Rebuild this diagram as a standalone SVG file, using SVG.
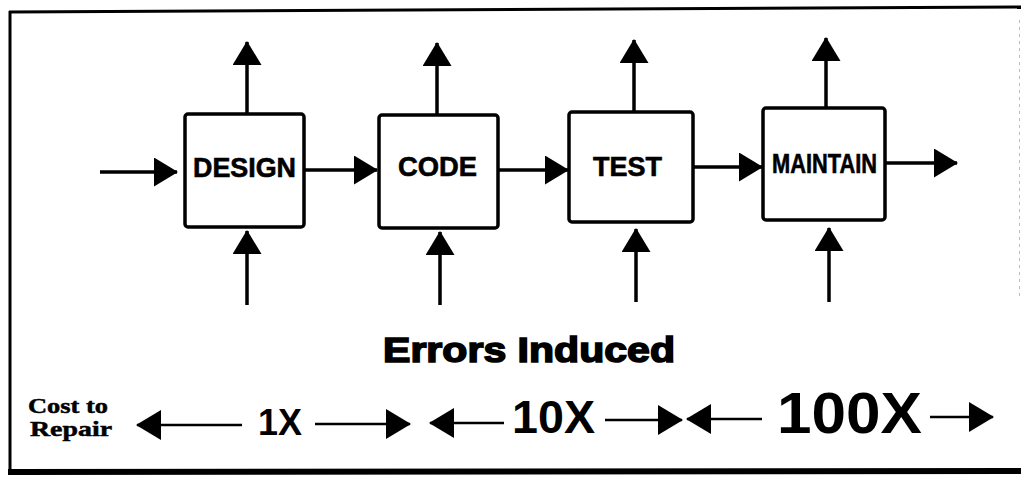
<svg xmlns="http://www.w3.org/2000/svg" width="1021" height="480" viewBox="0 0 1021 480">
  <style>
    .box { fill: #ffffff; stroke: #000000; stroke-width: 3.5; }
    .lbl { font-family: "Liberation Sans", Arial, sans-serif; font-weight: bold; fill: #000000; stroke: #000000; stroke-width: 0.6; text-anchor: middle; }
    .wire { stroke: #000000; stroke-width: 3.5; fill: none; }
    .thin { stroke: #000000; stroke-width: 2.5; fill: none; }
    .frame { stroke: #000000; fill: none; }
    .cost { font-family: "Liberation Serif", "Times New Roman", serif; font-weight: bold; font-size: 22px; fill: #000000; stroke: #000000; stroke-width: 0.5; }
    .mult { font-family: "Liberation Sans", Arial, sans-serif; font-weight: bold; fill: #000000; }
  </style>
  <defs>
    <marker id="head" viewBox="0 0 24 29" refX="23" refY="14.5" markerWidth="24" markerHeight="29" markerUnits="userSpaceOnUse" orient="auto">
      <path d="M0,0 L24,14.5 L0,29 z" fill="#000000"/>
    </marker>
    <marker id="headS" viewBox="0 0 25 30" refX="24" refY="15" markerWidth="25" markerHeight="30" markerUnits="userSpaceOnUse" orient="auto">
      <path d="M0,0 L25,15 L0,30 z" fill="#000000"/>
    </marker>
  </defs>

  <rect width="1021" height="480" fill="#ffffff"/>

  <!-- outer frame -->
  <g id="frame">
    <line class="frame" x1="9" y1="12" x2="1021" y2="7" stroke-width="3"/>
    <line class="frame" x1="10" y1="11" x2="10" y2="474" stroke-width="3"/>
    <line class="frame" x1="8" y1="472" x2="1021" y2="471" stroke-width="6"/>
    <line x1="1019.5" y1="20" x2="1019.5" y2="300" stroke="#bbbbbb" stroke-width="1" stroke-dasharray="3 4"/>
  </g>

  <!-- connectors -->
  <g id="connectors">
    <!-- main flow -->
    <line class="wire" x1="100" y1="172" x2="177" y2="172" marker-end="url(#head)"/>
    <line class="wire" x1="304" y1="170" x2="377" y2="170" marker-end="url(#head)"/>
    <line class="wire" x1="498" y1="170" x2="568" y2="170" marker-end="url(#head)"/>
    <line class="wire" x1="693" y1="167" x2="762" y2="167" marker-end="url(#head)"/>
    <line class="wire" x1="885" y1="163" x2="957" y2="163" marker-end="url(#head)"/>
    <!-- outputs upward -->
    <line class="wire" x1="247" y1="114" x2="247" y2="42" marker-end="url(#head)"/>
    <line class="wire" x1="437" y1="115" x2="437" y2="43" marker-end="url(#head)"/>
    <line class="wire" x1="634" y1="112" x2="634" y2="40" marker-end="url(#head)"/>
    <line class="wire" x1="826" y1="108" x2="826" y2="38" marker-end="url(#head)"/>
    <!-- errors induced from below -->
    <line class="wire" x1="247" y1="305" x2="247" y2="231" marker-end="url(#head)"/>
    <line class="wire" x1="440" y1="305" x2="440" y2="232" marker-end="url(#head)"/>
    <line class="wire" x1="636" y1="302" x2="636" y2="229" marker-end="url(#head)"/>
    <line class="wire" x1="829" y1="302" x2="829" y2="228" marker-end="url(#head)"/>
    <!-- cost scale arrows -->
    <line class="thin" x1="242" y1="425" x2="137" y2="425" marker-end="url(#headS)"/>
    <line class="thin" x1="315" y1="424" x2="410" y2="424" marker-end="url(#headS)"/>
    <line class="thin" x1="504" y1="423" x2="430" y2="423" marker-end="url(#headS)"/>
    <line class="thin" x1="605" y1="420" x2="682" y2="420" marker-end="url(#headS)"/>
    <line class="thin" x1="762" y1="419" x2="687" y2="419" marker-end="url(#headS)"/>
    <line class="thin" x1="930" y1="417" x2="993" y2="417" marker-end="url(#headS)"/>
  </g>

  <!-- process nodes -->
  <g id="design">
    <rect class="box" x="185" y="114" width="119" height="113" rx="3"/>
    <text class="lbl" x="244.5" y="177" font-size="27" textLength="103" lengthAdjust="spacingAndGlyphs">DESIGN</text>
  </g>
  <g id="code">
    <rect class="box" x="379" y="115" width="119" height="113" rx="3"/>
    <text class="lbl" x="437.5" y="176" font-size="28" textLength="79" lengthAdjust="spacingAndGlyphs">CODE</text>
  </g>
  <g id="test">
    <rect class="box" x="569" y="112" width="124" height="110" rx="3"/>
    <text class="lbl" x="627.5" y="176" font-size="28" textLength="69" lengthAdjust="spacingAndGlyphs">TEST</text>
  </g>
  <g id="maintain">
    <rect class="box" x="763" y="108" width="122" height="112" rx="3"/>
    <text class="lbl" x="824.5" y="173" font-size="28" textLength="105" lengthAdjust="spacingAndGlyphs">MAINTAIN</text>
  </g>

  <!-- captions -->
  <g id="errors-induced">
    <text class="mult" x="383" y="362" font-size="35" stroke="#000000" stroke-width="1.6" textLength="292" lengthAdjust="spacingAndGlyphs">Errors Induced</text>
  </g>
  <g id="cost-to-repair">
    <text class="cost" x="28" y="413" textLength="80" lengthAdjust="spacingAndGlyphs">Cost to</text>
    <text class="cost" x="30" y="436" textLength="82" lengthAdjust="spacingAndGlyphs">Repair</text>
  </g>
  <g id="cost-scale">
    <text class="mult" x="258" y="435" font-size="37" textLength="44" lengthAdjust="spacingAndGlyphs">1X</text>
    <text class="mult" x="512" y="433" font-size="46" textLength="83" lengthAdjust="spacingAndGlyphs">10X</text>
    <text class="mult" x="777" y="433" font-size="57" textLength="145" lengthAdjust="spacingAndGlyphs">100X</text>
  </g>
</svg>
